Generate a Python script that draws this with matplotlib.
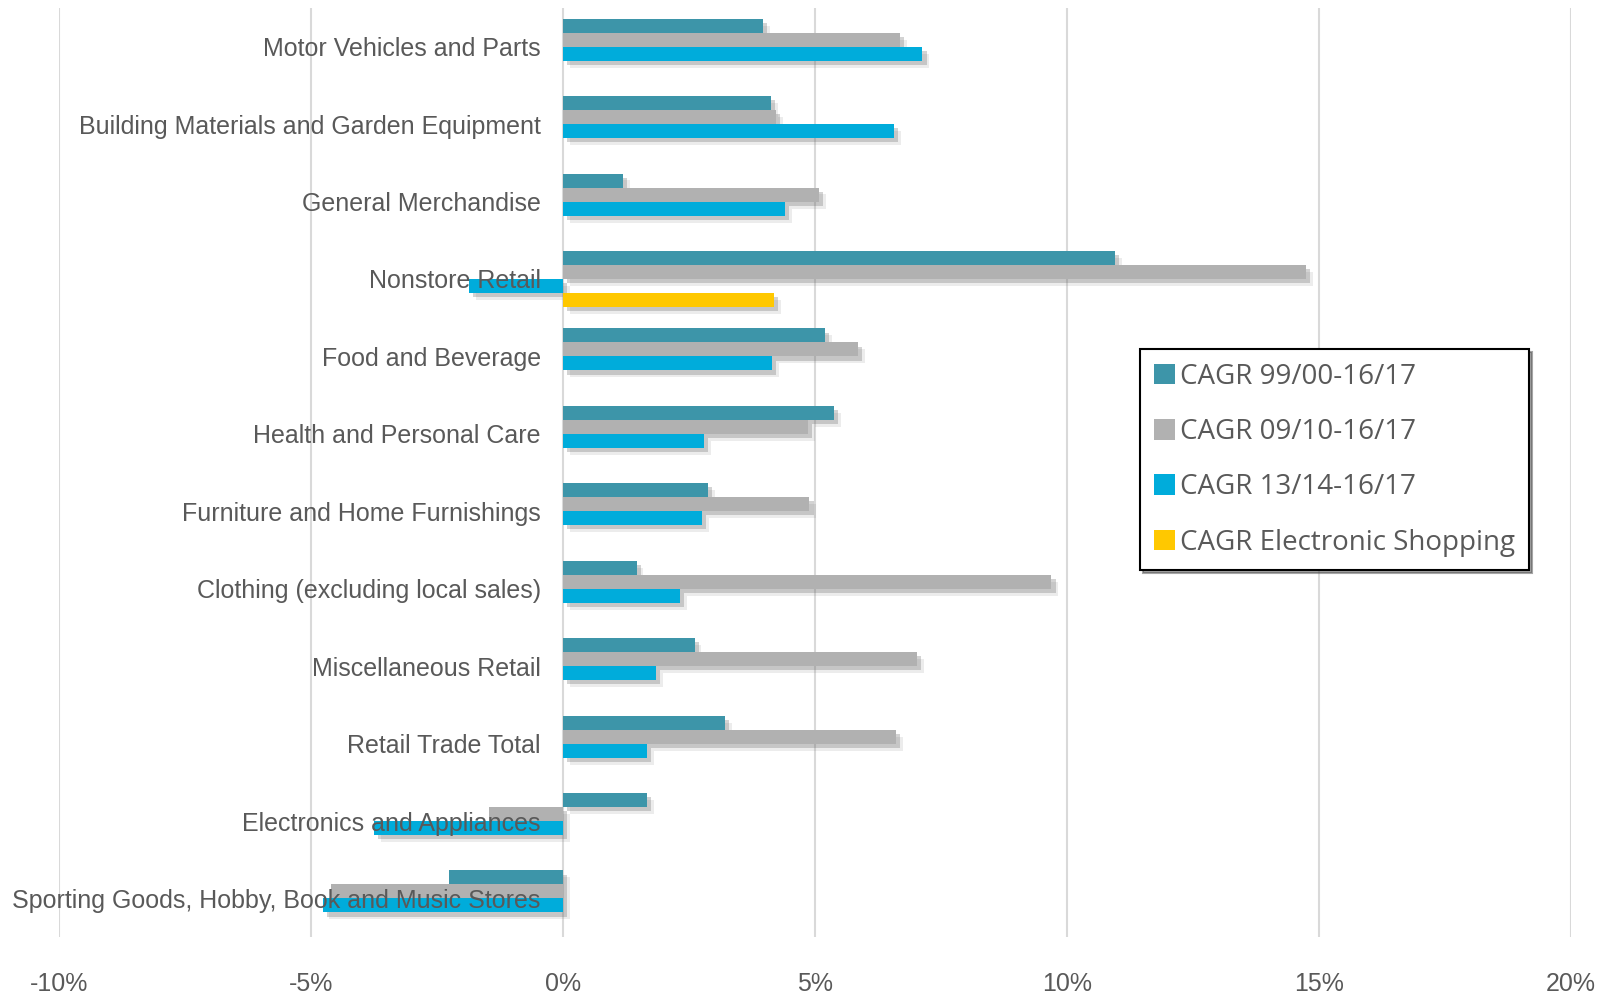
import numpy as np
import matplotlib
matplotlib.use("Agg")
import matplotlib.pyplot as plt
import matplotlib.patheffects as pe
from matplotlib.ticker import PercentFormatter

plt.rcParams["axes.unicode_minus"] = False

# ------------------------------------------------------------------ #
#                               DATA                                 #
# ------------------------------------------------------------------ #
categories = [
    "Motor Vehicles and Parts",
    "Building Materials and Garden Equipment",
    "General Merchandise",
    "Nonstore Retail",
    "Food and Beverage",
    "Health and Personal Care",
    "Furniture and Home Furnishings",
    "Clothing (excluding local sales)",
    "Miscellaneous Retail",
    "Retail Trade Total",
    "Electronics and Appliances",
    "Sporting Goods, Hobby, Book and Music Stores",
]
cagr_99_17 = [3.97, 4.13, 1.19, 10.95, 5.19, 5.38, 2.87, 1.46, 2.61, 3.22, 1.66, -2.26]
cagr_09_17 = [6.68, 4.23, 5.08, 14.74, 5.86, 4.86, 4.89, 9.69, 7.02, 6.60, -1.46, -4.60]
cagr_13_17 = [7.13, 6.57, 4.40, -1.86, 4.15, 2.80, 2.75, 2.32, 1.85, 1.66, -3.75, -4.77]
cagr_eshop = [np.nan, np.nan, np.nan, 4.19, np.nan, np.nan, np.nan, np.nan, np.nan, np.nan, np.nan, np.nan]

series_labels = ["CAGR 99/00-16/17", "CAGR 09/10-16/17", "CAGR 13/14-16/17", "CAGR Electronic Shopping"]
series_colors = ["#3D95A9", "#B1B1B1", "#00ACDB", "#FFC800"]

# ------------------------------------------------------------------ #
#                               PLOT                                 #
# ------------------------------------------------------------------ #
fig = plt.figure(figsize=(16.1, 9.97), dpi=100)
ax = fig.add_axes([0.0366, 0.060, 0.9392, 0.932])

y = np.arange(len(categories))
h = 0.181
shadow = [pe.SimplePatchShadow(offset=(5, -5), shadow_rgbFace="#808080", alpha=0.15),
          pe.SimplePatchShadow(offset=(3, -3), shadow_rgbFace="#707070", alpha=0.3),
          pe.Normal()]

all_series = [cagr_99_17, cagr_09_17, cagr_13_17, cagr_eshop]
for i, (vals, lab, col) in enumerate(zip(all_series, series_labels, series_colors)):
    vals = np.array(vals, dtype=float) / 100
    bars = ax.barh(y + (i - 1.5) * h, vals, height=h, color=col, label=lab, zorder=2)
    for b in bars:
        b.set_path_effects(shadow)

ax.set_xlim(-0.10, 0.20)
ax.set_ylim(11.5, -0.5)
ax.xaxis.set_major_formatter(PercentFormatter(1.0, decimals=0))
ax.set_xticks([-0.10, -0.05, 0, 0.05, 0.10, 0.15, 0.20])

ax.grid(axis="x", color="#D9D9D9", linewidth=1.5)
ax.set_axisbelow(True)
ax.yaxis.set_zorder(5)

# category labels sit next to the zero line
ax.spines["left"].set_position(("data", 0))
for s in ["left", "right", "top", "bottom"]:
    ax.spines[s].set_visible(False)

ax.set_yticks(y)
ax.set_yticklabels(categories, family=["Liberation Sans", "DejaVu Sans"], fontsize=18, color="#595959",
                   va="center_baseline")
ax.tick_params(axis="y", length=0, pad=16)
ax.tick_params(axis="x", length=0, pad=25, labelsize=18, labelcolor="#595959")
for t in ax.get_xticklabels():
    t.set_family(["Liberation Sans Narrow", "Liberation Sans", "DejaVu Sans"])

leg = ax.legend(loc="upper left", bbox_to_anchor=(0.708, 0.650), bbox_transform=fig.transFigure,
                frameon=True, fancybox=False, shadow=True, edgecolor="black",
                prop={"family": ["Open Sans", "DejaVu Sans"], "size": 20},
                handlelength=0.75, handleheight=0.75, handletextpad=0.2,
                labelspacing=0.98, borderpad=0.5, borderaxespad=0)
leg.get_frame().set_linewidth(1.5)
for t in leg.get_texts():
    t.set_color("#595959")
for hnd in leg.legend_handles:
    hnd.set_path_effects([])

fig.savefig("out.png", dpi=100)
